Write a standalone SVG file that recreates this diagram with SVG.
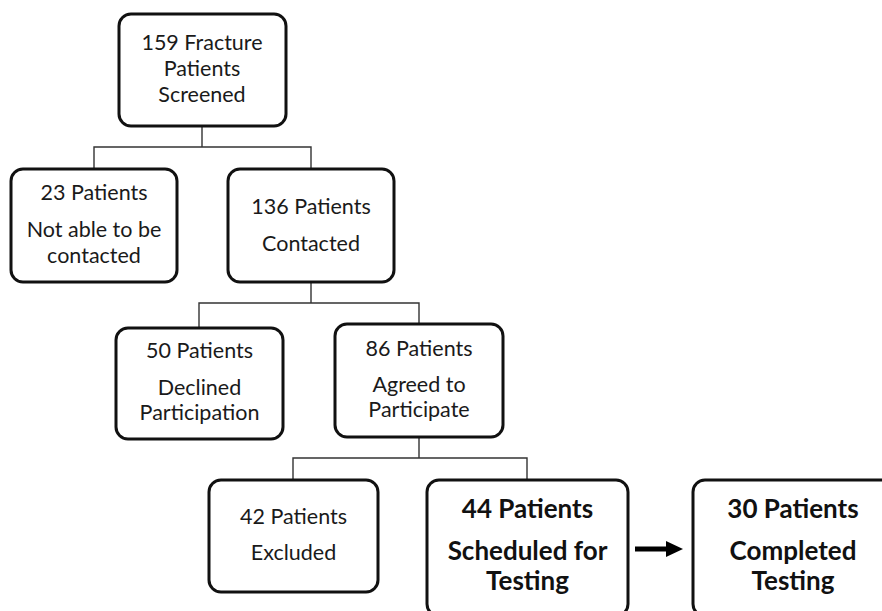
<svg xmlns="http://www.w3.org/2000/svg" width="882" height="611" viewBox="0 0 882 611">
<style>
.box{fill:#fff;stroke:#111;stroke-width:3}
.t{font-family:Lato,"Open Sans",sans-serif;font-size:21.5px;fill:#1a1a1a;text-anchor:middle}
.b{font-family:Lato,"Open Sans",sans-serif;font-size:26px;font-weight:bold;fill:#111;text-anchor:middle}
.c{fill:none;stroke:#333;stroke-width:1.4}
</style>
<rect width="882" height="611" fill="#fff"/>
<g id="connectors">
<path class="c" d="M202,126 V147 M94,169 V147 H311 V169"/>
<path class="c" d="M311,282 V303 M199,328 V303 H419 V324"/>
<path class="c" d="M419,437 V458 M293,480 V458 H527 V480"/>
<path d="M635,549 H668" stroke="#000" stroke-width="5" fill="none"/>
<polygon points="666,541 683,549 666,557" fill="#000"/>
</g>
<g id="n159">
<rect class="box" x="119" y="14" width="167" height="112" rx="12"/>
<text class="t" x="202" y="50">159 Fracture</text>
<text class="t" x="202" y="76">Patients</text>
<text class="t" x="202" y="102">Screened</text>
</g>
<g id="n23">
<rect class="box" x="11" y="169" width="166" height="113" rx="12"/>
<text class="t" x="94" y="200">23 Patients</text>
<text class="t" x="94" y="237">Not able to be</text>
<text class="t" x="94" y="263">contacted</text>
</g>
<g id="n136">
<rect class="box" x="228" y="169" width="166" height="113" rx="12"/>
<text class="t" x="311" y="214">136 Patients</text>
<text class="t" x="311" y="251">Contacted</text>
</g>
<g id="n50">
<rect class="box" x="116" y="328" width="167" height="111" rx="12"/>
<text class="t" x="199.5" y="358">50 Patients</text>
<text class="t" x="199.5" y="395">Declined</text>
<text class="t" x="199.5" y="420">Participation</text>
</g>
<g id="n86">
<rect class="box" x="335" y="324" width="168" height="113" rx="12"/>
<text class="t" x="419" y="356">86 Patients</text>
<text class="t" x="419" y="392">Agreed to</text>
<text class="t" x="419" y="417">Participate</text>
</g>
<g id="n42">
<rect class="box" x="209" y="480" width="169" height="112" rx="12"/>
<text class="t" x="293.5" y="524">42 Patients</text>
<text class="t" x="293.5" y="560">Excluded</text>
</g>
<g id="n44">
<rect class="box" x="427" y="480" width="201" height="136" rx="12"/>
<text class="b" x="527.5" y="518">44 Patients</text>
<text class="b" x="527.5" y="560">Scheduled for</text>
<text class="b" x="527.5" y="590">Testing</text>
</g>
<g id="n30">
<rect class="box" x="693" y="480" width="200" height="136" rx="12"/>
<text class="b" x="793" y="518">30 Patients</text>
<text class="b" x="793" y="560">Completed</text>
<text class="b" x="793" y="590">Testing</text>
</g>
</svg>
